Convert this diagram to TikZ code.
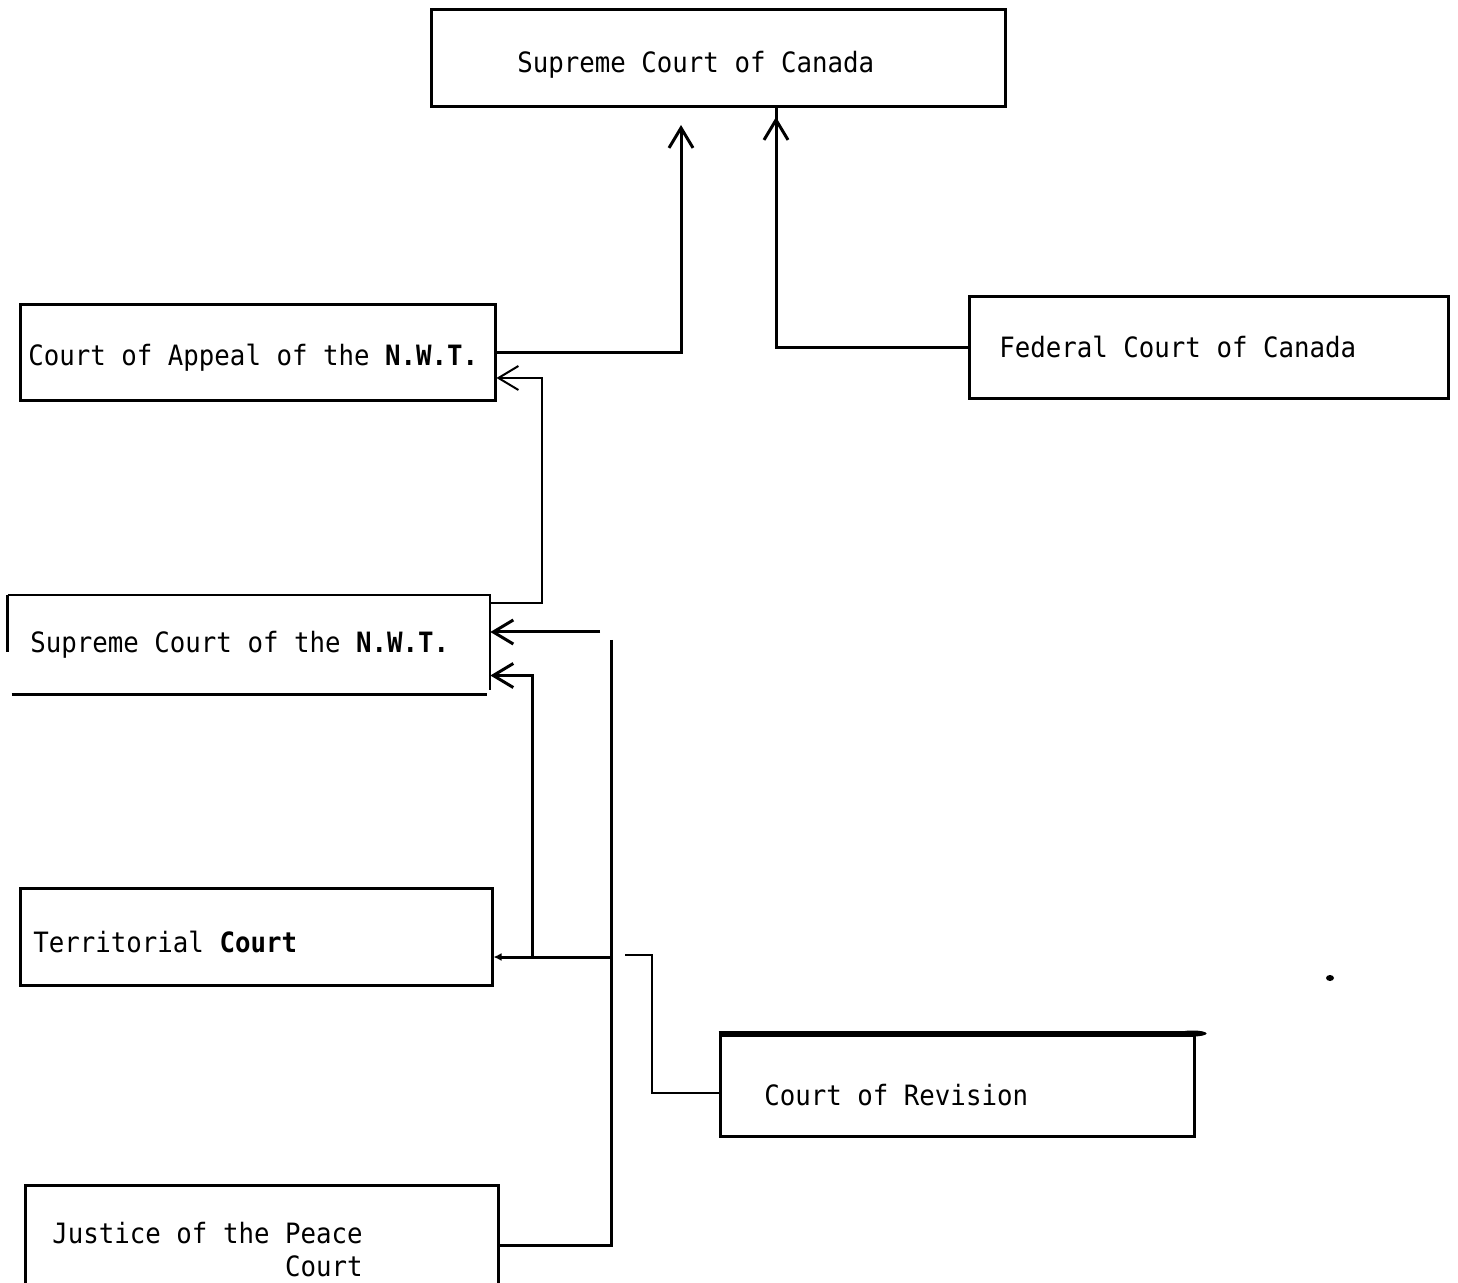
\documentclass[tikz,border=0pt]{standalone}
\usepackage{fontspec}
\newfontfamily\courtfont[FakeStretch=0.92]{DejaVu Sans Mono}
\usetikzlibrary{arrows.meta,calc}

\begin{document}
\begin{tikzpicture}[
    x=0.5pt, y=-0.5pt,
    court_box/.style={rectangle, draw, line width=1.5pt, inner sep=0pt},
    open_box/.style={rectangle, inner sep=0pt},
    court_text/.style={anchor=base west, inner sep=0pt, font=\courtfont\fontsize{14}{16.5}\selectfont},
    link/.style={line width=1.5pt},
    thin_link/.style={line width=1pt},
    arrow/.style={-{Straight Barb[length=10pt, width=12pt]}, line width=1.5pt},
    thin_arrow/.style={-{Straight Barb[length=10pt, width=12pt]}, line width=1pt}
]
\useasboundingbox (0,0) rectangle (1458,1283);

% Court boxes
\node[court_box, minimum width=287pt, minimum height=48.5pt] (scc) at (718,58.5) {};
\node[court_box, minimum width=237.5pt, minimum height=48pt] (appeal) at (257.5,353) {};
\node[court_box, minimum width=239.5pt, minimum height=51pt] (federal) at (1208.5,348) {};
\node[open_box, minimum width=241pt, minimum height=49.5pt] (scnwt) at (249,644.5) {};
\node[court_box, minimum width=236pt, minimum height=48.5pt] (territorial) at (256,936.5) {};
\node[court_box, minimum width=237pt, minimum height=50.5pt] (revision) at (957,1085.5) {};
\node[court_box, minimum width=236.5pt, minimum height=55pt] (jp) at (261.5,1240) {};

% Supreme Court of the N.W.T. is only partly ruled
\draw[thin_link] (scnwt.north west) -- (scnwt.north east) -- ($(scnwt.south east)+(0,-4)$);
\draw[link] (scnwt.north west) -- ($(scnwt.west)+(0,8)$);
\draw[link] ($(scnwt.south west)+(4,0)$) -- ($(scnwt.south east)+(-3,0)$);

% heavier top rule on Court of Revision
\draw[line width=2.2pt] (revision.north west) -- (revision.north east);
\fill ($(revision.north east)+(-3,0)$) ellipse (14 and 3);

% Labels
\node[court_text] (scc_label) at (517,73) {Supreme Court of Canada};
\node[court_text] (appeal_label) at (28,366) {Court of Appeal of the \textbf{N.W.T.}};
\node[court_text] (federal_label) at (999,358) {Federal Court of Canada};
\node[court_text] (scnwt_label) at (30,653) {Supreme Court of the \textbf{N.W.T.}};
\node[court_text] (territorial_label) at (33,952) {Territorial \textbf{Court}};
\node[court_text] (revision_label) at (764,1105) {Court of Revision};
\node[court_text, anchor=base east, align=right] (jp_label) at (363,1276) {Justice of the Peace\\Court};

% Appeal routes to the Supreme Court of Canada
\coordinate (scc_in_a) at (681,125);
\coordinate (scc_in_f) at (776,117);
\draw[arrow] (appeal.east) -| (scc_in_a);
\draw[link] (federal.west) -| (scc.south -| scc_in_f);
\draw[arrow] (scc_in_f |- federal.west) -- (scc_in_f);

% Supreme Court of the N.W.T. up to the Court of Appeal
\coordinate (up_a) at (542,603);
\draw[thin_arrow] (scnwt.east |- up_a) -- (up_a) |- ($(appeal.east)+(0,25)$);

% trunk from the lower courts
\coordinate (trunk_top) at (611,640);
\coordinate (trunk_in) at (600,632);
\coordinate (trunk_mid) at (611,957);
\coordinate (branch) at (532,957);
\draw[link] (trunk_top) -- (trunk_mid) |- (jp.east |- 0,1245);
\draw[arrow] (trunk_in) -- (scnwt.east |- trunk_in);
\draw[link, -{Latex[length=4pt, width=4pt]}] (trunk_mid) -- (territorial.east |- trunk_mid);
\draw[arrow] (branch) |- ($(scnwt.east)+(0,31)$);

% Court of Revision branch
\coordinate (rev_a) at (625,955);
\draw[thin_link] (rev_a) -- (652,955) |- ($(revision.west)+(0,7)$);

% stray mark
\fill (1330,978) ellipse (4 and 3);

\end{tikzpicture}
\end{document}
